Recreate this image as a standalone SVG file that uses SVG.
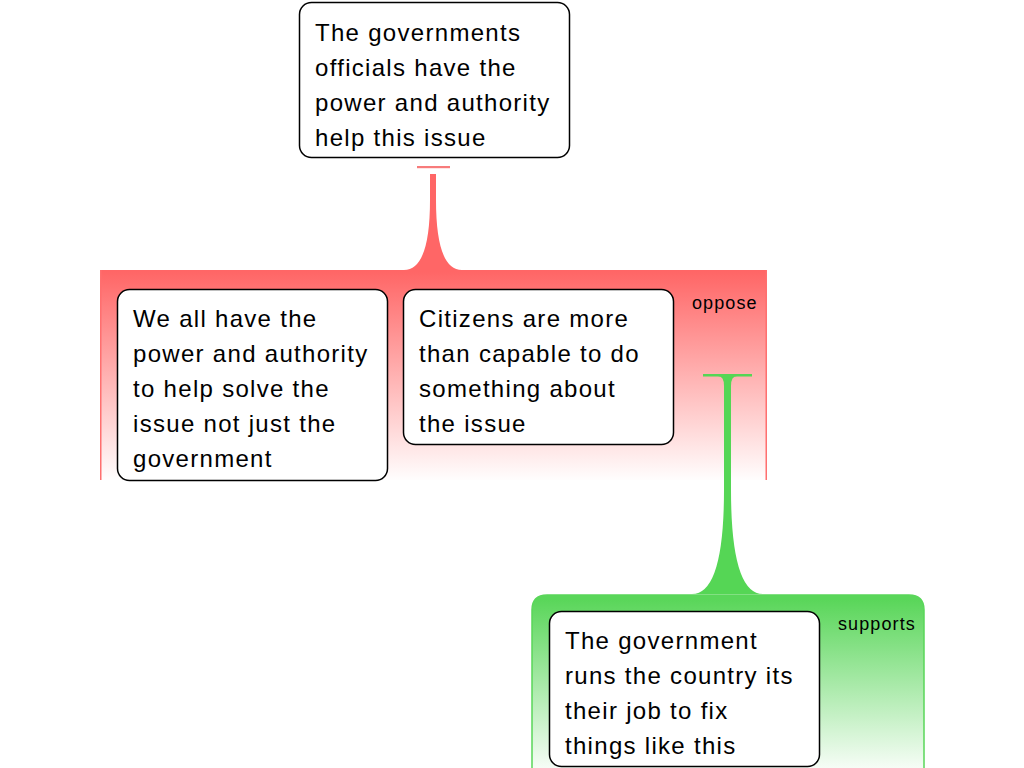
<svg xmlns="http://www.w3.org/2000/svg" width="1024" height="768" viewBox="0 0 1024 768">
  <style>
    .node rect { fill: #ffffff; stroke: #000000; stroke-width: 1.5; }
    .node text { font-family: "Liberation Sans", Arial, sans-serif; font-size: 24px; letter-spacing: 1.3px; fill: #000000; }
    .lbl { font-family: "Liberation Sans", Arial, sans-serif; font-size: 18px; letter-spacing: 1.1px; fill: #000000; }
    .red { fill: #ff6666; }
    .green { fill: #55d655; }
  </style>
  <defs>
    <linearGradient id="gRed" gradientUnits="userSpaceOnUse" x1="0" y1="272" x2="0" y2="482">
      <stop offset="0" stop-color="#ff6666"/>
      <stop offset="1" stop-color="#ffffff"/>
    </linearGradient>
    <linearGradient id="gGreen" gradientUnits="userSpaceOnUse" x1="0" y1="600" x2="0" y2="778">
      <stop offset="0" stop-color="#5ad65a"/>
      <stop offset="1" stop-color="#ffffff"/>
    </linearGradient>
  </defs>

  <g id="connectors">
    <!-- oppose group band -->
    <rect x="100" y="270" width="667" height="210" fill="url(#gRed)"/>
    <path d="M100.75,270 V480 M766.25,270 V480" stroke="#ff6f6f" stroke-width="1.5" fill="none"/>
    <text class="lbl" x="692" y="309">oppose</text>
    <!-- red connector from top node -->
    <rect x="417" y="166" width="33" height="2.2" fill="#f77b7b"/>
    <path class="red" d="M430,174 L436,174 L436,200 Q436,270 462,270 L404,270 Q430,270 430,200 Z"/>

    <!-- supports group band -->
    <path d="M532,610 Q532,595 547,595 L909,595 Q924,595 924,610 L924,800 L532,800 Z" fill="url(#gGreen)" stroke="#5ad65a" stroke-width="1.5"/>
    <text class="lbl" x="838" y="630">supports</text>
    <!-- green connector -->
    <rect class="green" x="703" y="374" width="49" height="2.5"/>
    <path class="green" d="M718,376 Q724,376 724,386 L724,490 Q724,594 692,594 L763,594 Q731,594 731,490 L731,386 Q731,376 737,376 Z"/>
  </g>

  <g id="node-top" class="node">
    <rect x="299.5" y="2.5" width="270" height="155" rx="12"/>
    <text x="315" y="41">The governments</text>
    <text x="315" y="76">officials have the</text>
    <text x="315" y="111">power and authority</text>
    <text x="315" y="146">help this issue</text>
  </g>

  <g id="node-we-all" class="node">
    <rect x="117.5" y="289.5" width="270" height="191" rx="12"/>
    <text x="133" y="327">We all have the</text>
    <text x="133" y="362">power and authority</text>
    <text x="133" y="397">to help solve the</text>
    <text x="133" y="432">issue not just the</text>
    <text x="133" y="467">government</text>
  </g>

  <g id="node-citizens" class="node">
    <rect x="403.5" y="289.5" width="270" height="155" rx="12"/>
    <text x="419" y="327">Citizens are more</text>
    <text x="419" y="362">than capable to do</text>
    <text x="419" y="397">something about</text>
    <text x="419" y="432">the issue</text>
  </g>

  <g id="node-government-runs" class="node">
    <rect x="549.5" y="611.5" width="270" height="155" rx="12"/>
    <text x="565" y="649">The government</text>
    <text x="565" y="684">runs the country its</text>
    <text x="565" y="719">their job to fix</text>
    <text x="565" y="754">things like this</text>
  </g>
</svg>
